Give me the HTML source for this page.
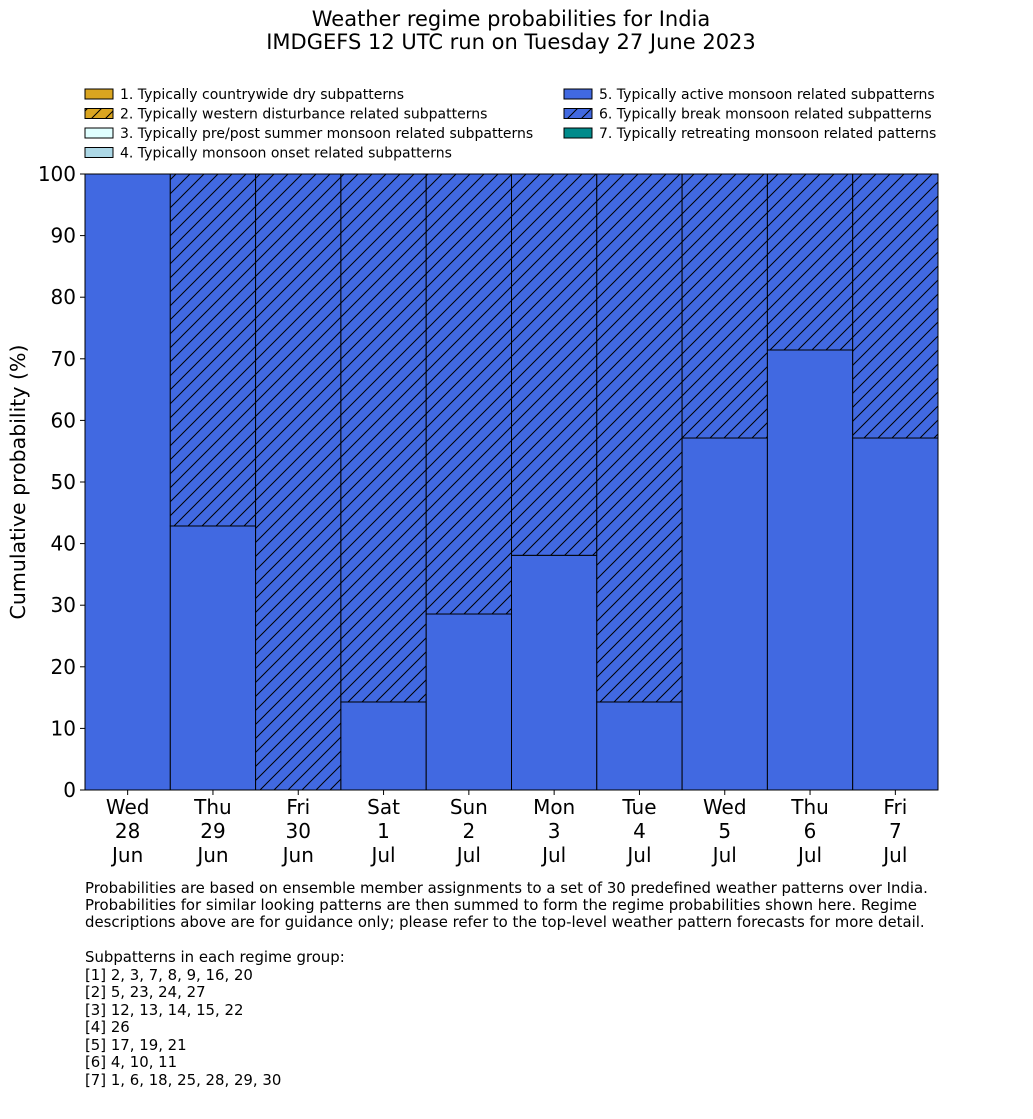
<!DOCTYPE html>
<html><head><meta charset="utf-8"><style>
body{margin:0;background:#fff;font-family:"Liberation Sans","DejaVu Sans",sans-serif;}
svg text{font-family:"DejaVu Sans","Liberation Sans",sans-serif;}
</style></head><body>
<svg id="chart" width="1033" height="1114" xmlns="http://www.w3.org/2000/svg">
<defs>
<pattern id="hatch" patternUnits="userSpaceOnUse" width="14" height="14">
<rect width="14" height="14" fill="#4169e1"/>
<path d="M-3,3 L3,-3 M0,14 L14,0 M11,17 L17,11" stroke="#000" stroke-width="1"/>
</pattern>
<pattern id="hatchY" patternUnits="userSpaceOnUse" width="14" height="14">
<rect width="14" height="14" fill="#daa520"/>
<path d="M-3,3 L3,-3 M0,14 L14,0 M11,17 L17,11" stroke="#000" stroke-width="1"/>
</pattern>
</defs>
<text x="511" y="26" text-anchor="middle" font-size="21">Weather regime probabilities for India</text>
<text x="511" y="49" text-anchor="middle" font-size="21">IMDGEFS 12 UTC run on Tuesday 27 June 2023</text>
<g id="legend" font-size="14"></g>
<g id="bars"></g>
<g id="axes"></g>
<text transform="translate(25,482) rotate(-90)" text-anchor="middle" font-size="20.5">Cumulative probability (%)</text>
<g font-size="14.9">
<text x="85" y="893">Probabilities are based on ensemble member assignments to a set of 30 predefined weather patterns over India.</text>
<text x="85" y="910">Probabilities for similar looking patterns are then summed to form the regime probabilities shown here. Regime</text>
<text x="85" y="927">descriptions above are for guidance only; please refer to the top-level weather pattern forecasts for more detail.</text>
<text x="85" y="962">Subpatterns in each regime group:</text>
<text x="85" y="980">[1] 2, 3, 7, 8, 9, 16, 20</text>
<text x="85" y="997">[2] 5, 23, 24, 27</text>
<text x="85" y="1015">[3] 12, 13, 14, 15, 22</text>
<text x="85" y="1032">[4] 26</text>
<text x="85" y="1050">[5] 17, 19, 21</text>
<text x="85" y="1067">[6] 4, 10, 11</text>
<text x="85" y="1085">[7] 1, 6, 18, 25, 28, 29, 30</text>
</g>
</svg>
<script>
const days=["Wed","Thu","Fri","Sat","Sun","Mon","Tue","Wed","Thu","Fri"];
const dates=["28","29","30","1","2","3","4","5","6","7"];
const months=["Jun","Jun","Jun","Jul","Jul","Jul","Jul","Jul","Jul","Jul"];
const active=[100,42.86,0,14.29,28.57,38.1,14.29,57.14,71.43,57.14];
const brk=[0,57.14,100,85.71,71.43,61.9,85.71,42.86,28.57,42.86];
const yTicks=[0,10,20,30,40,50,60,70,80,90,100];
const legendLabels=["1. Typically countrywide dry subpatterns","2. Typically western disturbance related subpatterns","3. Typically pre/post summer monsoon related subpatterns","4. Typically monsoon onset related subpatterns","5. Typically active monsoon related subpatterns","6. Typically break monsoon related subpatterns","7. Typically retreating monsoon related patterns"];
const legendFills=["#daa520","url(#hatchY)","#e0ffff","#add8e6","#4169e1","url(#hatch)","#008b8b"];
const NS="http://www.w3.org/2000/svg";
const X0=85,X1=938,Y0=790,Y1=174;
const bw=(X1-X0)/days.length;
const y=v=>Y0-(Y0-Y1)*v/100;
const x=i=>X0+i*bw;
function mk(tag,attrs,parent){const e=document.createElementNS(NS,tag);for(const k in attrs)e.setAttribute(k,attrs[k]);parent.appendChild(e);return e;}
const bars=document.getElementById('bars'),axes=document.getElementById('axes'),leg=document.getElementById('legend');
days.forEach((d,i)=>{
  let r=mk('rect',{x:x(i),y:y(active[i]),width:bw,height:y(0)-y(active[i]),fill:'#4169e1',stroke:'#000','stroke-width':1},bars);
  
  
  let r2=mk('rect',{x:x(i),y:y(active[i]+brk[i]),width:bw,height:y(active[i])-y(active[i]+brk[i]),fill:'url(#hatch)',stroke:'#000','stroke-width':1},bars);
  
  
  const cx=x(i)+bw/2;
  mk('line',{x1:cx,x2:cx,y1:Y0,y2:Y0+5,stroke:'#000'},axes);
  [days[i],dates[i],months[i]].forEach((s,k)=>{
    let t=mk('text',{x:cx,y:814+k*24,'text-anchor':'middle','font-size':20},axes);t.textContent=s;
    
    
  });
});
mk('rect',{x:X0,y:Y1,width:X1-X0,height:Y0-Y1,fill:'none',stroke:'#000','stroke-width':1},axes);
yTicks.forEach(v=>{
  mk('line',{x1:X0-5,x2:X0,y1:y(v),y2:y(v),stroke:'#000'},axes);
  let t=mk('text',{x:X0-9,y:y(v)+7,'text-anchor':'end','font-size':20},axes);t.textContent=v;
  
  
});
legendLabels.forEach((s,i)=>{
  const col=i<4?0:1,row=i<4?i:i-4;
  const lx=col?564:85,ly=89+row*19.5;
  let g=mk('g',{},leg);
  
  
  mk('rect',{x:lx,y:ly,width:28,height:10,fill:legendFills[i],stroke:'#000','stroke-width':1},g);
  let t=mk('text',{x:lx+35,y:ly+10},g);t.textContent=s;
});
</script>
</body></html>
